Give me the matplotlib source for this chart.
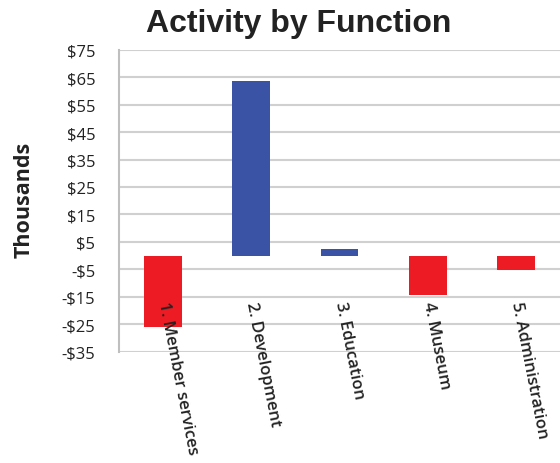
import matplotlib
matplotlib.use("Agg")
import matplotlib.pyplot as plt
import numpy as np

# values in thousands of dollars
functions = ["1. Member services", "2. Development", "3. Education",
             "4. Museum", "5. Administration"]
values = [-26.1, 63.5, 2.5, -14.4, -5.3]
ticks = [-35, -25, -15, -5, 5, 15, 25, 35, 45, 55, 65, 75]

RED = "#ED1C24"
BLUE = "#3A53A4"
GRID = "#d0d0d0"


def money(v):
    return "-${}".format(abs(v)) if v < 0 else "${}".format(v)


fig = plt.figure(figsize=(5.6, 4.64), dpi=100)
ax = fig.add_axes([0.2125, 0.2399, 0.7875, 0.6508])

x = np.arange(len(functions))
colors = [BLUE if v > 0 else RED for v in values]
ax.bar(x, values, width=0.43, color=colors, zorder=3)

ax.set_xlim(-0.5, len(functions) - 0.5)
ax.set_ylim(-35, 75)
ax.set_yticks(ticks)
ax.set_yticklabels([money(t) for t in ticks], family="Open Sans",
                   fontsize=12, color="#222222")
ax.yaxis.grid(True, color=GRID, linewidth=1.5, zorder=0)
ax.tick_params(axis="y", length=0, pad=17)
ax.set_xticks([])

for side in ["top", "right", "bottom"]:
    ax.spines[side].set_visible(False)
ax.spines["left"].set_color("#bfbfbf")
ax.spines["left"].set_linewidth(1.5)

# category labels hang below the zero line, over the bars
for i, name in enumerate(functions):
    ax.annotate(name, xy=(i, 0), xytext=(0, -33), textcoords="offset points",
                rotation=-79, rotation_mode="anchor", ha="left", va="center",
                family="Open Sans", fontweight="semibold", fontsize=12,
                color="#222222", zorder=5, annotation_clip=False)

fig.text(0.043, 0.569, "Thousands", rotation=90, ha="center", va="center",
         family="Open Sans", fontweight="bold", fontsize=15.5, color="#222222")
fig.text(0.533, 0.931, "Activity by Function", ha="center", va="baseline",
         family="Liberation Sans", fontweight="bold", fontsize=23,
         color="#222222")

fig.savefig("out.png", dpi=100)
